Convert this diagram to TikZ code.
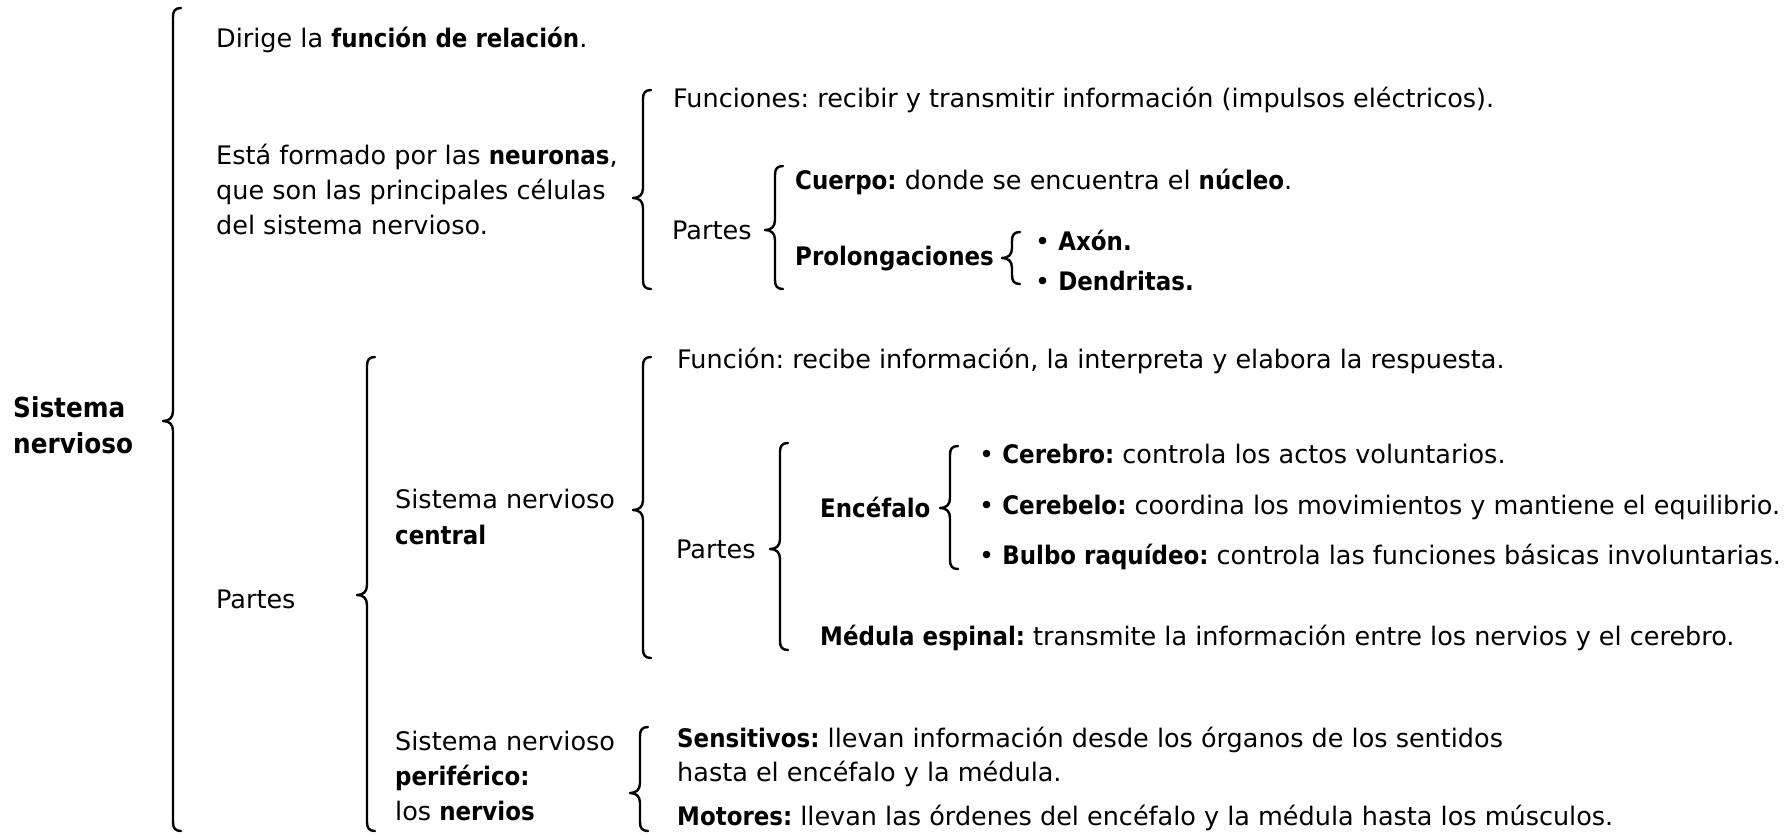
\documentclass[tikz,border=0pt]{standalone}
\usepackage{fontspec}
\setmainfont{DejaVu Sans}[BoldFeatures={FakeStretch=0.9}]
\frenchspacing
\newcommand{\brc}[4]{\draw[bracestyle] (#1+8,#2) .. controls (#1+2,#2) and (#1,#2+3) .. (#1,#2+9) -- (#1,#3-10) .. controls (#1,#3-3) and (#1-4,#3) .. (#1-10,#3) .. controls (#1-4,#3) and (#1,#3+3) .. (#1,#3+10) -- (#1,#4-9) .. controls (#1,#4-3) and (#1+2,#4) .. (#1+8,#4);}
\begin{document}
\begin{tikzpicture}[x=1pt,y=-1pt,
  txt/.style={anchor=base west, inner sep=0pt, font=\fontsize{25.5}{35}\selectfont\frenchspacing},
  title/.style={anchor=base west, inner sep=0pt, font=\fontsize{27.5}{36}\selectfont\bfseries},
  bracestyle/.style={draw=black, line width=2.4pt, line cap=round, line join=round}]
\useasboundingbox[fill=white] (0,0) rectangle (1792,835);

% main label
\node[title] (sis1) at (13,417) {Sistema};
\node[title] (sis2) at (13,453) {nervioso};
\brc{173}{8}{421}{831}

% neurons block
\node[txt] (t1) at (216,47) {Dirige la \textbf{función de relación}.};
\node[txt] (t2) at (216,164) {Está formado por las \textbf{neuronas},};
\node[txt] (t3) at (216,199) {que son las principales células};
\node[txt] (t4) at (216,234) {del sistema nervioso.};
\brc{643}{90}{198}{289}
\node[txt] (t5) at (673,107) {Funciones: recibir y transmitir información (impulsos eléctricos).};
\node[txt] (t6) at (672,239) {Partes};
\brc{775}{166}{230}{289}
\node[txt] (t7) at (795,189) {\textbf{Cuerpo:} donde se encuentra el \textbf{núcleo}.};
\node[txt] (t8) at (795,265) {\textbf{Prolongaciones}};
\brc{1012}{232}{258}{284}
\node[txt] (t9) at (1035,250) {• \textbf{Axón.}};
\node[txt] (t10) at (1035,290) {• \textbf{Dendritas.}};

% partes
\node[txt] (t11) at (216,608) {Partes};
\brc{367}{357}{595}{831}

% SNC
\node[txt] (t12) at (395,508) {Sistema nervioso};
\node[txt] (t13) at (395,544) {\textbf{central}};
\brc{643}{357}{510}{658}
\node[txt] (t14) at (677,368) {Función: recibe información, la interpreta y elabora la respuesta.};
\node[txt] (t15) at (676,558) {Partes};
\brc{780}{443}{549}{650}
\node[txt] (t16) at (820,517) {\textbf{Encéfalo}};
\brc{950}{446}{508}{569}
\node[txt] (t17) at (979,463) {• \textbf{Cerebro:} controla los actos voluntarios.};
\node[txt] (t18) at (979,514) {• \textbf{Cerebelo:} coordina los movimientos y mantiene el equilibrio.};
\node[txt] (t19) at (979,564) {• \textbf{Bulbo raquídeo:} controla las funciones básicas involuntarias.};
\node[txt] (t20) at (820,645) {\textbf{Médula espinal:} transmite la información entre los nervios y el cerebro.};

% SNP
\node[txt] (t21) at (395,750) {Sistema nervioso};
\node[txt] (t22) at (395,785) {\textbf{periférico:}};
\node[txt] (t23) at (395,820) {los \textbf{nervios}};
\brc{640}{727}{793}{831}
\node[txt] (t24) at (677,747) {\textbf{Sensitivos:} llevan información desde los órganos de los sentidos};
\node[txt] (t25) at (677,781) {hasta el encéfalo y la médula.};
\node[txt] (t26) at (677,825) {\textbf{Motores:} llevan las órdenes del encéfalo y la médula hasta los músculos.};
\end{tikzpicture}
\end{document}
